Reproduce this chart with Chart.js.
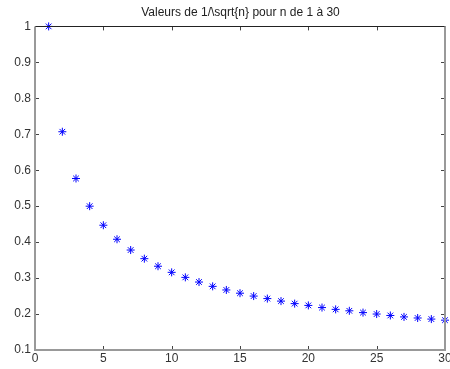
<!DOCTYPE html>
<html>
<head>
<meta charset="utf-8">
<script src="https://cdn.jsdelivr.net/npm/chart.js@4/dist/chart.umd.min.js"></script>
<style>
  html, body { margin: 0; padding: 0; background: #fff; }
</style>
</head>
<body>
<canvas id="c" width="450" height="369"></canvas>
<script>
const nValues = [1, 2, 3, 4, 5, 6, 7, 8, 9, 10, 11, 12, 13, 14, 15,
                 16, 17, 18, 19, 20, 21, 22, 23, 24, 25, 26, 27, 28, 29, 30];
const invSqrt = [1.000, 0.707, 0.577, 0.500, 0.447, 0.408, 0.378, 0.354, 0.333, 0.316,
                 0.302, 0.289, 0.277, 0.267, 0.258, 0.250, 0.243, 0.236, 0.229, 0.224,
                 0.218, 0.213, 0.209, 0.204, 0.200, 0.196, 0.192, 0.189, 0.186, 0.183];
const xTicks = [0, 5, 10, 15, 20, 25, 30];
const yTicks = [0.1, 0.2, 0.3, 0.4, 0.5, 0.6, 0.7, 0.8, 0.9, 1];
const titleText = 'Valeurs de 1/\\sqrt{n} pour n de 1 à 30';

const FONT = '12px "Liberation Sans", Arial, sans-serif';

// matlab-like axes box with inward ticks, labels drawn from the scales
const axesBox = {
  id: 'axesBox',
  afterDatasetsDraw(chart) {
    const { ctx, chartArea: a, scales } = chart;
    const xs = scales.x, ys = scales.y;
    ctx.save();
    ctx.lineWidth = 1;

    // ticks
    ctx.strokeStyle = '#444';
    xTicks.forEach(v => {
      const px = Math.round(xs.getPixelForValue(v)) + 0.5;
      ctx.beginPath();
      ctx.moveTo(px, a.bottom); ctx.lineTo(px, a.bottom - 4);
      ctx.moveTo(px, a.top); ctx.lineTo(px, a.top + 4);
      ctx.stroke();
    });
    yTicks.forEach(v => {
      const py = Math.round(ys.getPixelForValue(v)) + 0.5;
      ctx.beginPath();
      ctx.moveTo(a.left, py); ctx.lineTo(a.left + 4, py);
      ctx.moveTo(a.right, py); ctx.lineTo(a.right - 4, py);
      ctx.stroke();
    });

    // frame
    ctx.strokeStyle = '#222';
    ctx.beginPath();
    ctx.moveTo(a.left, Math.round(a.top) + 0.5);
    ctx.lineTo(a.right, Math.round(a.top) + 0.5);
    ctx.stroke();
    ctx.strokeStyle = '#999';
    ctx.lineWidth = 2;
    ctx.beginPath();
    ctx.moveTo(Math.round(a.left), a.top);
    ctx.lineTo(Math.round(a.left), a.bottom);
    ctx.lineTo(a.right, a.bottom);
    ctx.lineTo(a.right, a.top);
    ctx.stroke();

    // labels
    ctx.fillStyle = '#333';
    ctx.font = FONT;
    ctx.textAlign = 'center';
    ctx.textBaseline = 'top';
    xTicks.forEach(v => {
      ctx.fillText(String(v), xs.getPixelForValue(v), a.bottom + 3);
    });
    ctx.textAlign = 'right';
    ctx.textBaseline = 'middle';
    yTicks.forEach(v => {
      ctx.fillText(String(Math.round(v * 10) / 10), a.left - 4, ys.getPixelForValue(v));
    });
    ctx.restore();
  }
};

new Chart(document.getElementById('c'), {
  type: 'scatter',
  data: {
    datasets: [{
      data: nValues.map((n, i) => ({ x: n, y: invSqrt[i] })),
      pointStyle: 'star',
      pointRadius: 4,
      borderColor: '#0000ff',
      backgroundColor: '#0000ff',
      borderWidth: 1
    }]
  },
  options: {
    responsive: false,
    animation: false,
    clip: false,
    layout: { padding: { left: 35, right: 4, top: 0, bottom: 19 } },
    plugins: {
      legend: { display: false },
      tooltip: { enabled: false },
      title: {
        display: true,
        text: titleText,
        color: '#222',
        font: { family: '"Liberation Sans", Arial, sans-serif', size: 12, weight: 'normal' },
        padding: { top: 5, bottom: 7 }
      }
    },
    scales: {
      x: { type: 'linear', min: 0, max: 30, display: false },
      y: { type: 'linear', min: 0.1, max: 1, display: false }
    }
  },
  plugins: [axesBox]
});
</script>
</body>
</html>
